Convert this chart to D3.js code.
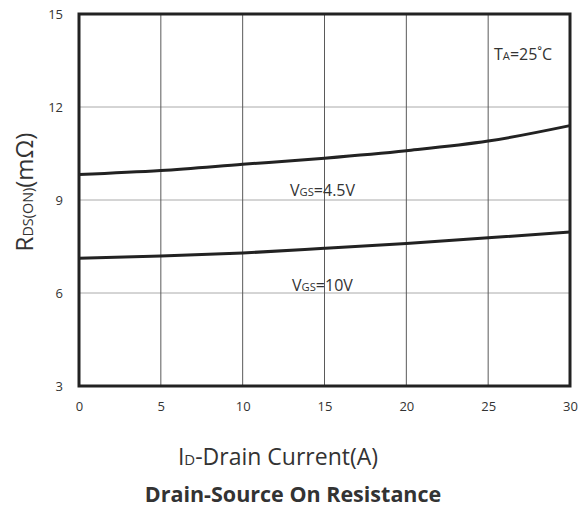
<!DOCTYPE html>
<html>
<head>
<meta charset="utf-8">
<script src="https://cdnjs.cloudflare.com/ajax/libs/d3/7.8.5/d3.min.js"></script>
<style>
  body { margin: 0; background: #fff; }
  text { font-family: "Open Sans", "Noto Sans", sans-serif; fill: #333; }
</style>
</head>
<body>
<div id="chart"></div>
<script>
// drain current (A)
var current = [0, 5, 10, 15, 20, 25, 30];
// Rds(on) in mOhm for each gate voltage
var rds45 = [9.82, 9.95, 10.15, 10.35, 10.59, 10.90, 11.40];
var rds10 = [7.12, 7.19, 7.29, 7.44, 7.60, 7.78, 7.97];
var xTicks = [0, 5, 10, 15, 20, 25, 30];
var yTicks = [3, 6, 9, 12, 15];

var W = 588, H = 507;
var plotL = 79, plotR = 570, plotT = 14, plotB = 386;

var svg = d3.select("#chart").append("svg")
  .attr("width", W)
  .attr("height", H);

var x = d3.scaleLinear().domain([0, 30]).range([plotL, plotR]);
var y = d3.scaleLinear().domain([3, 15]).range([plotB, plotT]);

// grid
svg.selectAll(".hgrid")
  .data(yTicks.slice(1, -1))
  .enter().append("line")
  .attr("x1", plotL).attr("x2", plotR)
  .attr("y1", function(d) { return y(d); })
  .attr("y2", function(d) { return y(d); })
  .attr("stroke", "#aaa").attr("stroke-width", 1);

svg.selectAll(".vgrid")
  .data(xTicks.slice(1, -1))
  .enter().append("line")
  .attr("y1", plotT).attr("y2", plotB)
  .attr("x1", function(d) { return x(d); })
  .attr("x2", function(d) { return x(d); })
  .attr("stroke", "#5a5a5a").attr("stroke-width", 1);

// axes (labels only)
var xAxis = svg.append("g")
  .attr("transform", "translate(0," + plotB + ")")
  .call(d3.axisBottom(x).tickValues(xTicks).tickSize(0).tickPadding(16));
var yAxis = svg.append("g")
  .attr("transform", "translate(" + plotL + ",0)")
  .call(d3.axisLeft(y).tickValues(yTicks).tickSize(0).tickPadding(16));
[xAxis, yAxis].forEach(function(a) {
  a.select(".domain").remove();
  a.selectAll("text").attr("font-size", 13).attr("fill", "#333")
    .attr("font-family", "'Open Sans', sans-serif");
});

// curves
var line = d3.line()
  .x(function(d) { return x(d[0]); })
  .y(function(d) { return y(d[1]); })
  .curve(d3.curveMonotoneX);

[rds45, rds10].forEach(function(s) {
  svg.append("path")
    .datum(d3.zip(current, s))
    .attr("d", line)
    .attr("fill", "none")
    .attr("stroke", "#222")
    .attr("stroke-width", 3);
});

// frame
svg.append("rect")
  .attr("x", plotL).attr("y", plotT)
  .attr("width", plotR - plotL).attr("height", plotB - plotT)
  .attr("fill", "none").attr("stroke", "#222").attr("stroke-width", 3);

// annotations
function subLabel(tx, ty, main, sub, rest, size, ratio) {
  var t = svg.append("text").attr("x", tx).attr("y", ty).attr("font-size", size);
  t.append("tspan").text(main);
  t.append("tspan").attr("font-size", size * (ratio || 0.72)).text(sub);
  t.append("tspan").text(rest);
  return t;
}
subLabel(290, 196, "V", "GS", "=4.5V", 16, 0.7);
subLabel(292, 291, "V", "GS", "=10V", 16, 0.7);
subLabel(494, 60, "T", "A", "=25\u02DAC", 16, 0.7);

// axis titles
subLabel(278, 465, "I", "D", "-Drain Current(A)", 23, 0.65).attr("text-anchor", "middle");
subLabel(0, 0, "R", "DS(ON)", "(m\u03A9)", 24, 0.6)
  .attr("text-anchor", "middle")
  .attr("transform", "translate(33,192) rotate(-90)");

svg.append("text")
  .attr("x", 293).attr("y", 502)
  .attr("text-anchor", "middle")
  .attr("font-size", 21.5).attr("font-weight", "bold")
  .text("Drain-Source On Resistance");
</script>
</body>
</html>
